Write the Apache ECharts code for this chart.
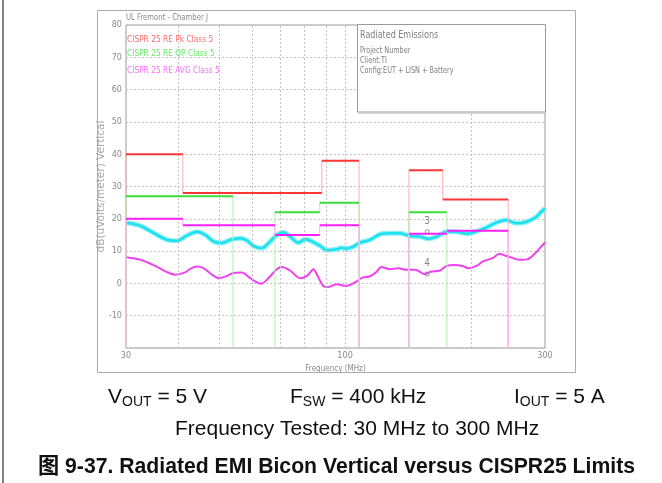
<!DOCTYPE html>
<html><head><meta charset="utf-8">
<script src="https://cdn.jsdelivr.net/npm/echarts@6.0.0/dist/echarts.min.js"></script>
<style>html,body{margin:0;padding:0;background:#fff}#c{width:662px;height:483px}</style>
</head><body><div id="c"></div>
<script>
// ---- data ----
const yMin = -20, yMax = 80, yStep = 10;
const xMin = 30, xMax = 300;
const xGridFreqs = [40, 50, 60, 70, 80, 90, 100, 200];
// limit bands: [startMHz, endMHz, dBuV/m]
const pkBands  = [[30, 41, 40], [41, 88, 28], [88, 108, 38], [142, 171, 35], [171, 245, 26]];
const qpBands  = [[30, 54, 27], [68, 87, 22], [87, 108, 25], [142, 175, 22]];
const avgBands = [[30, 41, 20], [41, 68, 18], [68, 87, 15], [87, 108, 18], [142, 175, 15.4], [175, 245, 16.3]];
// peak measurement (cyan)
const peakFreq = [30, 31, 32.5, 34, 35.6, 37.6, 39.7, 41.9, 44.3, 46.4, 48.5, 50.8, 53.2, 56.2, 58.3, 60.4, 63.3, 65.6, 68.7, 71.2, 73.9, 77.4, 80.3, 83.3, 87.2, 90.4, 95.5, 98, 101, 104, 108.6, 114.7, 121.1, 127.9, 135.1, 142.7, 150.7, 157.8, 165.4, 174.6, 184.5, 194.8, 205.7, 217.3, 229.5, 242.4, 256, 270, 285.6, 292, 300];
const peakVal  = [18.8, 18.5, 17.8, 16.5, 15.0, 13.5, 13.2, 14.8, 16.0, 15.0, 13.0, 12.5, 13.5, 14.0, 13.3, 11.6, 10.9, 12.4, 15.0, 15.8, 14.5, 12.6, 13.7, 13.0, 11.6, 10.3, 10.6, 11.0, 10.8, 11.2, 12.6, 13.5, 15.2, 15.5, 15.5, 14.7, 14.5, 13.8, 14.5, 16.0, 16.0, 15.4, 16.1, 17.3, 18.8, 19.6, 18.6, 19.0, 20.5, 21.8, 23.2];
// average measurement (magenta)
const avgFreq = [30, 32.5, 35.6, 37.6, 39.3, 41.5, 42.7, 44.3, 45.9, 48.1, 49.9, 51.7, 54.1, 56.7, 59.4, 63, 65.6, 68.7, 70.6, 73.9, 78.1, 81.4, 84, 85.7, 88.7, 91.1, 95.5, 100.6, 105.6, 110, 114.7, 118.9, 122, 127.9, 133.9, 140, 147, 154.7, 160, 168.4, 174.6, 182.3, 190.4, 196.9, 205.7, 213.4, 225.5, 233.3, 242.4, 251, 261, 274, 285, 292, 300];
const avgVal  = [8.1, 7.3, 5.1, 3.5, 2.7, 3.4, 4.5, 5.2, 4.7, 2.7, 1.6, 2.1, 3.2, 3.4, 1.6, -0.1, 1.6, 4.4, 5.1, 4.0, 1.6, 2.5, 4.4, 2.7, -0.8, -1.1, -0.3, -0.8, 0.3, 1.8, 2.2, 3.6, 5.1, 4.4, 4.7, 4.2, 4.2, 2.9, 3.6, 4.0, 5.4, 5.7, 5.4, 4.7, 5.4, 6.8, 7.9, 9.2, 8.5, 7.9, 7.3, 7.6, 9.5, 11.0, 12.7];
// markers
const markerFreq = [157, 157];
const markerVal = [16, 2.9];
const markerLabel = ['3', '4'];
const legendNames = ['CISPR 25 RE Pk Class 5', 'CISPR 25 RE QP Class 5', 'CISPR 25 RE AVG Class 5'];

// ---- helpers ----
function horiz(bands) {
  const d = [];
  bands.forEach(b => { d.push([b[0], b[2]], [b[1], b[2]], [b[1], '-']); });
  return d;
}
function verts(bands) {
  const d = [];
  bands.forEach((b, i) => {
    const prev = bands[i - 1], next = bands[i + 1];
    const lo = (prev && prev[1] === b[0]) ? prev[2] : yMin;
    d.push([b[0], lo], [b[0], b[2]], [b[0], '-']);
    if (!(next && next[0] === b[1])) d.push([b[1], b[2]], [b[1], yMin], [b[1], '-']);
  });
  return d;
}
const zip = (a, b) => a.map((v, i) => [v, b[i]]);

const smallFont = "'Liberation Sans Narrow','DejaVu Sans Condensed','Liberation Sans',sans-serif";
const bigFont = "'Liberation Sans','Noto Sans CJK SC',sans-serif";
const gray = '#8a8a8a';

const chart = echarts.init(document.getElementById('c'), null, {renderer: 'canvas'});
const limitColors = {pk: ['#ff3636', '#ffb0b0'], qp: ['#3ade3a', '#aef0ae'], avg: ['#ff1eff', '#ffaaff']};
const richLine = {n: {fontSize: 21, fontFamily: bigFont, fill: '#111'}, s: {fontSize: 14, fontFamily: bigFont, fill: '#111', padding: [10, 0, 0, 0]}};

chart.setOption({
  animation: false,
  backgroundColor: '#fff',
  grid: {left: 126, top: 25, right: 117, bottom: 135, show: true, borderColor: '#9a9a9a', borderWidth: 1, backgroundColor: 'transparent'},
  xAxis: {
    type: 'log', logBase: 10, min: xMin, max: xMax,
    axisLine: {show: false}, axisTick: {show: false},
    splitLine: {show: false},
    axisLabel: {color: gray, fontSize: 9, fontFamily: smallFont, margin: 3, formatter: v => String(Math.round(v))},
    name: 'Frequency (MHz)', nameLocation: 'middle', nameGap: 15,
    nameTextStyle: {color: gray, fontSize: 8, fontFamily: smallFont}
  },
  yAxis: {
    type: 'value', min: yMin, max: yMax, interval: yStep,
    axisLine: {show: false}, axisTick: {show: false},
    splitLine: {show: true, lineStyle: {color: '#c4c4c4', type: [2, 2], width: 1}},
    axisLabel: {color: gray, fontSize: 9, fontFamily: smallFont, margin: 4, formatter: v => (v === yMin ? '' : String(v))},
    name: 'dB(uVolts/meter) Vertical', nameLocation: 'middle', nameGap: 19, nameMoveOverlap: false,
    nameTextStyle: {color: '#aaaaaa', fontSize: 10.5, fontFamily: "'DejaVu Sans',sans-serif"}
  },
  series: [
    {type: 'line', data: [], silent: true,
      markLine: {silent: true, symbol: ['none', 'none'], label: {show: false},
        lineStyle: {color: '#c4c4c4', type: [2, 2], width: 1},
        data: xGridFreqs.map(f => ({xAxis: f}))}},
    {type: 'line', data: zip(peakFreq, peakVal), showSymbol: false, smooth: 0.3,
      lineStyle: {color: '#8ef0f6', width: 5}, z: 3},
    {type: 'line', data: zip(peakFreq, peakVal), showSymbol: false, smooth: 0.3,
      lineStyle: {color: '#1ee0ee', width: 2.5}, z: 3},
    {type: 'line', data: zip(avgFreq, avgVal), showSymbol: false, smooth: 0.3,
      lineStyle: {color: '#f040f0', width: 2}, z: 3},
    {type: 'line', data: verts(pkBands), showSymbol: false, lineStyle: {color: limitColors.pk[1], width: 1}, z: 4},
    {type: 'line', data: verts(qpBands), showSymbol: false, lineStyle: {color: limitColors.qp[1], width: 1}, z: 4},
    {type: 'line', data: verts(avgBands), showSymbol: false, lineStyle: {color: limitColors.avg[1], width: 1}, z: 4},
    {type: 'line', data: horiz(pkBands), showSymbol: false, lineStyle: {color: limitColors.pk[0], width: 2}, z: 5},
    {type: 'line', data: horiz(qpBands), showSymbol: false, lineStyle: {color: limitColors.qp[0], width: 2}, z: 5},
    {type: 'line', data: horiz(avgBands), showSymbol: false, lineStyle: {color: limitColors.avg[0], width: 2}, z: 5},
    {type: 'scatter', data: zip(markerFreq, markerVal), symbol: 'circle', symbolSize: 4,
      itemStyle: {color: 'transparent', borderColor: '#777', borderWidth: 1}, z: 6,
      label: {show: true, position: 'top', distance: 3, color: '#666', fontSize: 10, fontFamily: smallFont,
        formatter: p => markerLabel[p.dataIndex]}}
  ],
  graphic: [
    {type: 'line', z: 100, shape: {x1: 3, y1: 0, x2: 3, y2: 483}, style: {stroke: '#555', lineWidth: 1.5}},
    {type: 'rect', z: 100, shape: {x: 97.5, y: 10.5, width: 478, height: 362}, style: {fill: null, stroke: '#ababab', lineWidth: 1}},
    {type: 'text', z: 100, x: 126, y: 18, scaleX: 0.85, style: {text: 'UL Fremont - Chamber J', fill: gray, fontSize: 9, fontFamily: smallFont, verticalAlign: 'middle'}},
    {type: 'text', z: 100, x: 127, y: 40, scaleX: 0.92, style: {text: legendNames[0], fill: '#ff6a6a', fontSize: 9, fontFamily: smallFont, verticalAlign: 'middle'}},
    {type: 'text', z: 100, x: 127, y: 54, scaleX: 0.92, style: {text: legendNames[1], fill: '#6ae86a', fontSize: 9, fontFamily: smallFont, verticalAlign: 'middle'}},
    {type: 'text', z: 100, x: 127, y: 71, scaleX: 0.92, style: {text: legendNames[2], fill: '#ff6aff', fontSize: 9, fontFamily: smallFont, verticalAlign: 'middle'}},
    {type: 'rect', z: 100, shape: {x: 357.5, y: 24.5, width: 188, height: 87.5}, style: {fill: '#fff', stroke: '#9a9a9a', lineWidth: 1}},
    {type: 'line', z: 100, shape: {x1: 358, y1: 113, x2: 546, y2: 113}, style: {stroke: '#c8c8c8', lineWidth: 1.5}},
    {type: 'text', z: 101, x: 360, y: 35, scaleX: 0.85, style: {text: 'Radiated Emissions', fill: '#808080', fontSize: 10.5, fontFamily: smallFont, verticalAlign: 'middle'}},
    {type: 'text', z: 101, x: 360, y: 50.5, scaleX: 0.85, style: {text: 'Project Number', fill: '#808080', fontSize: 8.5, fontFamily: smallFont, verticalAlign: 'middle'}},
    {type: 'text', z: 101, x: 360, y: 60.5, scaleX: 0.85, style: {text: 'Client:TI', fill: '#808080', fontSize: 8.5, fontFamily: smallFont, verticalAlign: 'middle'}},
    {type: 'text', z: 101, x: 360, y: 71, scaleX: 0.85, style: {text: 'Config:EUT + LISN + Battery', fill: '#808080', fontSize: 8.5, fontFamily: smallFont, verticalAlign: 'middle'}},
    {type: 'text', z: 100, x: 108, y: 397, style: {text: '{n|V}{s|OUT}{n| = 5 V}', fontFamily: bigFont, fill: '#111', verticalAlign: 'middle', rich: richLine}},
    {type: 'text', z: 100, x: 290, y: 397, style: {text: '{n|F}{s|SW}{n| = 400 kHz}', fontFamily: bigFont, fill: '#111', verticalAlign: 'middle', rich: richLine}},
    {type: 'text', z: 100, x: 514, y: 397, style: {text: '{n|I}{s|OUT}{n| = 5 A}', fontFamily: bigFont, fill: '#111', verticalAlign: 'middle', rich: richLine}},
    {type: 'text', z: 100, x: 175, y: 429, style: {text: 'Frequency Tested: 30 MHz to 300 MHz', fontSize: 21, fontFamily: bigFont, fill: '#111', verticalAlign: 'middle'}},
    {type: 'text', z: 100, x: 38, y: 467, style: {text: '图 9-37. Radiated EMI Bicon Vertical versus CISPR25 Limits', fontSize: 21.2, fontWeight: 'bold', fontFamily: bigFont, fill: '#111', verticalAlign: 'middle'}}
  ]
});
</script>
</body></html>
